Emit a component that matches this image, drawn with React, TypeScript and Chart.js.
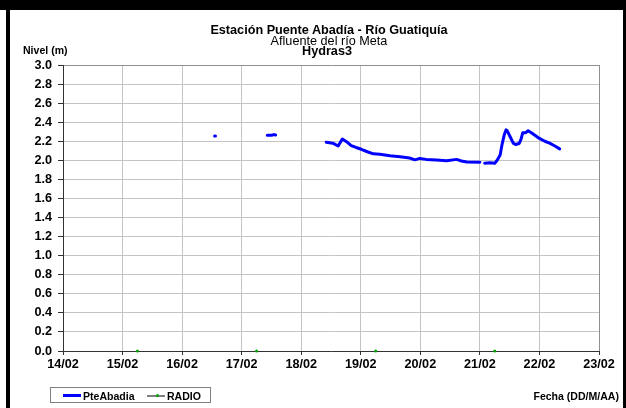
import React, { useEffect, useRef } from "react";
import { Chart, registerables } from "chart.js";

Chart.register(...registerables);

const titleLines = ["Estación Puente Abadía  - Río Guatiquía", "Afluente del río Meta", "Hydras3"];
const yAxisTitle = "Nivel (m)";
const xAxisTitle = "Fecha (DD/M/AA)";
const seriesNames = ["PteAbadia", "RADIO"];
const xTickLabels = ["14/02", "15/02", "16/02", "17/02", "18/02", "19/02", "20/02", "21/02", "22/02", "23/02"];
const xStart = 14;
const yMin = 0;
const yMax = 3;
const yStep = 0.2;

// days (day-of-month, fractional) and levels (m); null = no data
const pteDays = [
  16.545, 16.56, 17.0,
  17.43, 17.5, 17.54, 17.57, 18.0,
  18.42, 18.53, 18.62, 18.69, 18.76, 18.84, 18.92, 19.01, 19.11, 19.21, 19.32, 19.49,
  19.66, 19.82, 19.91, 19.99, 20.1, 20.27, 20.44, 20.61, 20.69, 20.78, 21.0, 21.04,
  21.08, 21.17, 21.25, 21.29, 21.34, 21.37, 21.41, 21.44, 21.46, 21.51, 21.56, 21.6,
  21.66, 21.69, 21.72, 21.77, 21.81, 21.87, 22.0, 22.09, 22.17, 22.26, 22.34,
];
const pteLevels = [
  2.255, 2.255, null,
  2.262, 2.262, 2.27, 2.265, null,
  2.19, 2.18, 2.15, 2.224, 2.196, 2.155, 2.135, 2.116, 2.09, 2.068, 2.063, 2.048,
  2.038, 2.024, 2.005, 2.02, 2.01, 2.003, 1.996, 2.01, 1.993, 1.982, 1.98, null,
  1.97, 1.975, 1.97, 2.0, 2.056, 2.16, 2.27, 2.32, 2.31, 2.245, 2.18, 2.166,
  2.177, 2.22, 2.29, 2.29, 2.31, 2.287, 2.23, 2.2, 2.18, 2.15, 2.12,
];
const radioDays = [15.25, 17.25, 19.25, 21.25];
const radioLevels = [0, 0, 0, 0];

const FONT = '"Liberation Sans", Arial, sans-serif';

export default function App() {
  const canvasRef = useRef<HTMLCanvasElement | null>(null);

  useEffect(() => {
    const canvas = canvasRef.current;
    if (!canvas) return;
    const chart = new Chart(canvas, {
      type: "line",
      data: {
        datasets: [
          {
            label: seriesNames[0],
            data: pteDays.map((d, i) => ({ x: d, y: pteLevels[i] })),
            borderColor: "#0000ff",
            backgroundColor: "#0000ff",
            borderWidth: 3,
            pointRadius: 0,
            tension: 0,
            spanGaps: false,
            borderCapStyle: "round",
            borderJoinStyle: "round",
          },
          {
            label: seriesNames[1],
            data: radioDays.map((d, i) => ({ x: d, y: radioLevels[i] })),
            borderColor: "#808080",
            backgroundColor: "#009900",
            showLine: false,
            pointRadius: 1.5,
            pointBorderWidth: 0,
            pointBackgroundColor: "#00a000",
            clip: false,
          } as any,
        ],
      },
      options: {
        animation: false,
        responsive: false,
        maintainAspectRatio: false,
        layout: { padding: { left: 0, right: 27, top: 65, bottom: 0 } },
        plugins: {
          legend: { display: false },
          title: { display: false },
          tooltip: { enabled: false },
        },
        scales: {
          x: {
            type: "linear",
            min: xStart,
            max: xStart + xTickLabels.length - 1,
            ticks: {
              stepSize: 1,
              autoSkip: false,
              maxRotation: 0,
              padding: 2,
              color: "#000",
              font: { family: FONT, size: 12.66, weight: "bold" },
              callback: (v: any) => xTickLabels[Math.round(Number(v) - xStart)] ?? "",
            },
            grid: {
              color: (c: any) => (c.tick && c.tick.value === xStart + xTickLabels.length - 1 ? "#909090" : "#c4c4c4"),
              lineWidth: 1,
              tickLength: 4,
              tickColor: "#333",
            },
            border: { color: "#333", width: 1 },
            afterFit: (s: any) => {
              s.height = 57;
            },
          },
          y: {
            min: yMin,
            max: yMax,
            ticks: {
              stepSize: yStep,
              padding: 6,
              color: "#000",
              font: { family: FONT, size: 12.66, weight: "bold" },
              callback: (v: any) => Number(v).toFixed(1),
            },
            grid: {
              color: (c: any) => (c.tick && Math.abs(c.tick.value - yMax) < 1e-6 ? "#909090" : "#c4c4c4"),
              lineWidth: 1,
              tickLength: 5,
              tickColor: "#333",
            },
            border: { color: "#333", width: 1 },
            afterFit: (s: any) => {
              s.width = 63;
            },
          },
        },
      },
    });
    return () => chart.destroy();
  }, []);

  const txt = (extra: React.CSSProperties): React.CSSProperties => ({
    position: "absolute",
    whiteSpace: "nowrap",
    fontFamily: FONT,
    color: "#000",
    lineHeight: 1,
    ...extra,
  });

  return (
    <div style={{ position: "fixed", left: 0, top: 0, width: 626, height: 408, background: "#fff", overflow: "hidden" }}>
      <canvas ref={canvasRef} width={626} height={408} style={{ position: "absolute", left: 0, top: 0 }} />
      <div style={{ position: "absolute", left: 0, top: 0, width: 626, height: 10, background: "#000" }} />
      <div style={{ position: "absolute", left: 6, top: 0, width: 4, height: 408, background: "#000" }} />
      <div style={{ position: "absolute", left: 623, top: 0, width: 3, height: 408, background: "#000" }} />

      <div style={txt({ left: 0, width: 658, top: 23.7, textAlign: "center", fontSize: 12.66, fontWeight: "bold" })}>{titleLines[0]}</div>
      <div style={txt({ left: 0, width: 658, top: 34.7, textAlign: "center", fontSize: 12.66 })}>{titleLines[1]}</div>
      <div style={txt({ left: 0, width: 654, top: 45.2, textAlign: "center", fontSize: 12.66, fontWeight: "bold" })}>{titleLines[2]}</div>
      <div style={txt({ left: 23, top: 44.7, fontSize: 10.55, fontWeight: "bold" })}>{yAxisTitle}</div>
      <div style={txt({ right: 7, top: 390.7, fontSize: 10.55, fontWeight: "bold" })}>{xAxisTitle}</div>

      <div style={{ position: "absolute", left: 50, top: 387, width: 161, height: 16, border: "1px solid #808080", boxSizing: "border-box", background: "#fff" }}>
        <div style={{ position: "absolute", left: 12, top: 6, width: 18, height: 3, background: "#0000ff" }} />
        <div style={txt({ left: 32, top: 2.5, fontSize: 10.55, fontWeight: "bold" })}>{seriesNames[0]}</div>
        <div style={{ position: "absolute", left: 96, top: 7, width: 18, height: 1.5, background: "#808080" }} />
        <div style={{ position: "absolute", left: 105, top: 6.2, width: 3, height: 3, borderRadius: 2, background: "#00a000" }} />
        <div style={txt({ left: 116, top: 2.5, fontSize: 10.55, fontWeight: "bold" })}>{seriesNames[1]}</div>
      </div>
    </div>
  );
}
